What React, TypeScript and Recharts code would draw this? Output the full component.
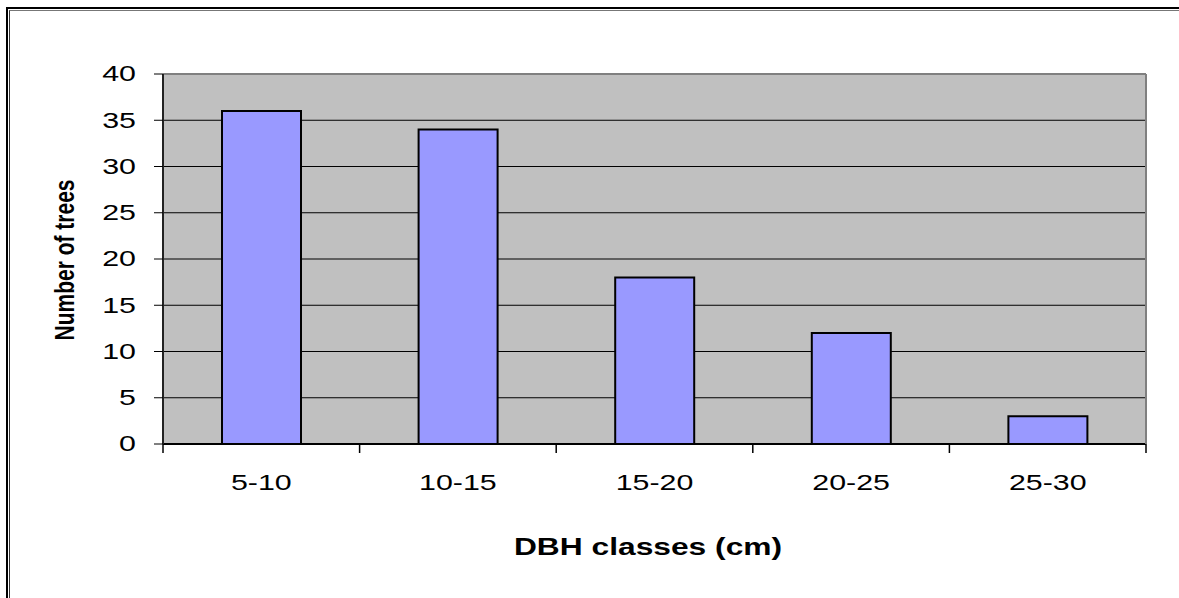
import React from "react";
import { BarChart, Bar, XAxis, YAxis, CartesianGrid } from "recharts";

const categories = ["5-10", "10-15", "15-20", "20-25", "25-30"];
const treeCounts = [36, 34, 18, 12, 3];
const yTicks = [0, 5, 10, 15, 20, 25, 30, 35, 40];
const boundaryTicks = [0, 1, 2, 3, 4, 5];

const data = categories.map((name, i) => ({ name, value: treeCounts[i] }));

const FONT = '"Liberation Sans", Arial, sans-serif';
const STRETCH = 1.38;

function YTick({ x, y, payload }: any) {
  return (
    <text
      transform={`translate(${x},${y}) scale(${STRETCH},1)`}
      textAnchor="end"
      dominantBaseline="central"
      fontFamily={FONT}
      fontSize={22}
      fill="#000"
    >
      {payload.value}
    </text>
  );
}

function XTick({ x, payload }: any) {
  return (
    <text
      transform={`translate(${x},490) scale(${STRETCH},1)`}
      textAnchor="middle"
      fontFamily={FONT}
      fontSize={22}
      fill="#000"
    >
      {payload.value}
    </text>
  );
}

const NoLabel = () => <g />;

export default function App() {
  return (
    <div
      style={{
        position: "absolute",
        left: 0,
        top: 0,
        width: 1179,
        height: 598,
        background: "#fff",
        overflow: "hidden",
      }}
    >
      {/* double frame, left + top only */}
      <div
        style={{
          position: "absolute",
          left: 6,
          top: 7,
          width: 1200,
          height: 620,
          borderLeft: "2px solid #000",
          borderTop: "2px solid #000",
        }}
      />
      <div
        style={{
          position: "absolute",
          left: 9,
          top: 10,
          width: 1200,
          height: 620,
          borderLeft: "1px solid #333",
          borderTop: "1px solid #777",
        }}
      />

      <div style={{ position: "absolute", left: 0, top: 0 }}>
        <BarChart
          width={1179}
          height={598}
          data={data}
          margin={{ top: 73, right: 32, left: 103, bottom: 93 }}
          barSize={79}
        >
          <CartesianGrid vertical={false} stroke="#000" fill="#C0C0C0" />
          {/* boundary ticks between the classes (fixed domain 0..5) */}
          <XAxis
            xAxisId={0}
            type="number"
            dataKey="value"
            domain={[0, 5]}
            ticks={boundaryTicks}
            allowDataOverflow
            height={1}
            tick={<NoLabel />}
            tickSize={9}
            tickLine={{ stroke: "#000", strokeWidth: 1.5 }}
            axisLine={{ stroke: "#000", strokeWidth: 2 }}
            interval={0}
          />
          <XAxis
            xAxisId="cat"
            dataKey="name"
            type="category"
            height={60}
            axisLine={false}
            tickLine={false}
            tick={<XTick />}
            interval={0}
          />
          <XAxis
            xAxisId="top"
            dataKey="name"
            orientation="top"
            height={1}
            tick={false}
            tickLine={false}
            axisLine={{ stroke: "#808080", strokeWidth: 2 }}
          />
          <YAxis
            domain={[0, 40]}
            ticks={yTicks}
            width={60}
            tickSize={9}
            tickMargin={18}
            tickLine={{ stroke: "#000" }}
            axisLine={{ stroke: "#222", strokeWidth: 2 }}
            tick={<YTick />}
            interval={0}
          />
          <YAxis
            yAxisId="r"
            orientation="right"
            domain={[0, 40]}
            width={1}
            tick={false}
            tickLine={false}
            axisLine={{ stroke: "#808080", strokeWidth: 2 }}
          />
          <Bar
            dataKey="value"
            xAxisId="cat"
            fill="#9999FF"
            stroke="#000"
            strokeWidth={2}
            isAnimationActive={false}
          />
        </BarChart>
      </div>

      {/* axis titles */}
      <div
        style={{
          position: "absolute",
          left: 648,
          top: 536,
          fontFamily: FONT,
          fontWeight: "bold",
          fontSize: 23,
          lineHeight: "23px",
          whiteSpace: "nowrap",
          color: "#000",
          transform: `translateX(-50%) scaleX(1.38)`,
        }}
      >
        DBH classes (cm)
      </div>
      <div
        style={{
          position: "absolute",
          left: 64,
          top: 260,
          width: 0,
          height: 0,
        }}
      >
        <div
          style={{
            position: "absolute",
            left: 0,
            top: 0,
            fontFamily: FONT,
            fontWeight: "bold",
            fontSize: 21,
            lineHeight: "21px",
            whiteSpace: "nowrap",
            color: "#000",
            transform: `translate(-50%, -50%) scaleX(1.35) rotate(-90deg)`,
          }}
        >
          Number of trees
        </div>
      </div>
    </div>
  );
}
